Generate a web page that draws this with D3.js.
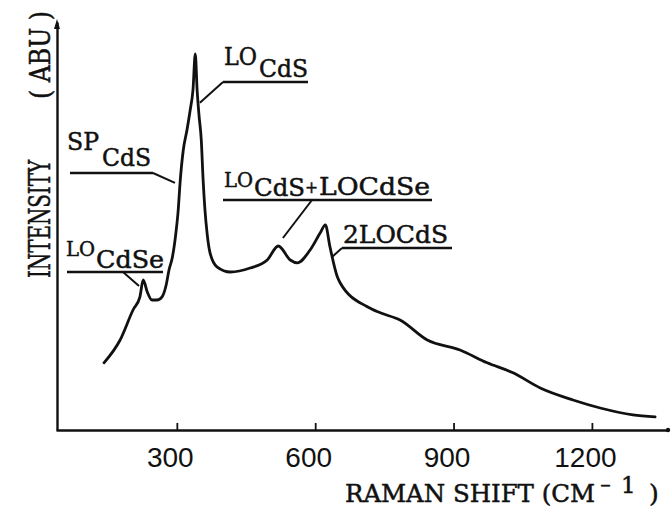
<!DOCTYPE html>
<html>
<head>
<meta charset="utf-8">
<script src="https://cdn.jsdelivr.net/npm/d3@7"></script>
<style>
  body { margin: 0; background: #fff; }
  svg { display: block; }
</style>
</head>
<body>
<div id="chart"></div>
<script>
// Raman spectrum (arbitrary intensity units)
const shift = [142, 177, 205, 220, 227, 236, 246, 257, 268, 277, 283, 290, 298, 303, 307, 314,
  322, 329, 335, 340, 344, 348, 353, 357, 361, 366, 372, 387, 416, 459, 496, 520, 546, 561,
  589, 611, 622, 632, 648, 654, 713, 741, 784, 843, 914, 973, 1029, 1088, 1159, 1218, 1289, 1337];
const intensity = [16.8, 22.5, 30, 33.3, 37.5, 34.5, 32.5, 32.5, 33.3, 36.3, 40, 43, 49.3, 55, 61.8, 70,
  75, 80, 85, 94, 85, 78.8, 72.5, 62.5, 55, 48.8, 44.3, 40.8, 39.5, 40.5, 42.5, 46, 42.5, 41.8,
  45, 49.3, 51.3, 45.8, 38.3, 36.8, 30.8, 29.3, 27.5, 22.5, 20, 16.8, 14.3, 10.5, 7.5, 5.5, 3.8, 3.3];
const tickValues = [300, 600, 900, 1200];

(function () {
  "use strict";

  const W = 671, H = 509;
  const typewriter = "'DejaVu Serif', 'Liberation Serif', serif";
  const ink = "#111";

  const svg = d3.select("#chart").append("svg")
    .attr("width", W).attr("height", H)
    .attr("viewBox", [0, 0, W, H]);

  const x = d3.scaleLinear().domain([38, 1365]).range([56, 668]);
  const y = d3.scaleLinear().domain([0, 102]).range([430, 22]);

  // --- Axes ---
  const xAxis = svg.append("g")
    .attr("transform", `translate(0,${y(0)})`)
    .call(d3.axisBottom(x)
      .tickValues(tickValues)
      .tickFormat(d3.format("d"))
      .tickSize(-7).tickSizeOuter(0).tickPadding(17));
  xAxis.select(".domain").attr("stroke", ink).attr("stroke-width", 2.6);
  xAxis.selectAll(".tick line").attr("stroke", ink).attr("stroke-width", 1.8);
  xAxis.selectAll(".tick text")
    .attr("fill", ink)
    .attr("dx", -7)
    .style("font-family", "'Liberation Sans', Arial, sans-serif")
    .style("font-size", "28px");

  const yAxis = svg.append("g")
    .attr("transform", `translate(${x.range()[0] + 1},0)`)
    .call(d3.axisLeft(y).tickValues([]).tickSizeOuter(0));
  yAxis.select(".domain").attr("stroke", ink).attr("stroke-width", 2.4);

  // arrow head on the intensity axis, small dot at the end of the shift axis
  const yTop = y.range()[1];
  svg.append("path")
    .attr("d", `M${x.range()[0] + 1},${yTop - 3} l-3,10 l6,0 z`)
    .attr("fill", ink);
  svg.append("circle")
    .attr("cx", x.range()[1]).attr("cy", y(0))
    .attr("r", 2.2).attr("fill", ink);

  // --- Spectrum ---
  const line = d3.line()
    .x((d, i) => x(shift[i]))
    .y((d, i) => y(intensity[i]))
    .curve(d3.curveMonotoneX);

  svg.append("path")
    .datum(shift)
    .attr("d", line)
    .attr("fill", "none")
    .attr("stroke", ink)
    .attr("stroke-width", 2.8)
    .attr("stroke-linejoin", "round")
    .attr("stroke-linecap", "round");

  // --- Peak labels ---
  // parts: [text, x, baseline, width, size]; rule: [x1, x2, y]; lead: start point, at: data point on curve
  const labels = [
    { parts: [["LO", 224, 65, 33, 24], ["CdS", 259, 77, 49, 24]], rule: [223, 308, 82],
      lead: [223, 82], at: [350, 81.8] },
    { parts: [["SP", 67, 150, 32, 24], ["CdS", 102, 166, 49, 24]], rule: [70, 153, 173],
      lead: [153, 173], at: [296, 61.8] },
    { parts: [["LO", 66, 256, 29, 21], ["CdSe", 96, 268, 68, 24]], rule: [67, 163, 272],
      lead: [123, 272], at: [218, 36] },
    { parts: [["LO", 224, 187, 29, 21], ["CdS", 254, 196, 51, 24], ["+", 305, 193, 13, 16],
      ["LOCdSe", 319, 195, 111, 24]],
      rule: [223, 432, 200], lead: [312, 200], at: [530, 48] },
    { parts: [["2LOCdS", 343, 243, 105, 24]], rule: [342, 452, 248],
      lead: [342, 248], at: [637, 43.3] },
  ];

  const lab = svg.append("g").attr("class", "labels");
  labels.forEach((l) => {
    const txt = lab.append("text")
      .attr("fill", ink)
      .attr("stroke", ink)
      .attr("stroke-width", 0.5)
      .style("font-family", typewriter);
    l.parts.forEach(([t, px, py, w, fs]) => {
      txt.append("tspan")
        .attr("x", px).attr("y", py)
        .attr("textLength", w)
        .attr("lengthAdjust", "spacingAndGlyphs")
        .style("font-size", fs + "px")
        .text(t);
    });
    lab.append("line")
      .attr("x1", l.rule[0]).attr("x2", l.rule[1])
      .attr("y1", l.rule[2]).attr("y2", l.rule[2])
      .attr("stroke", ink).attr("stroke-width", 2.6);
    lab.append("line")
      .attr("x1", l.lead[0]).attr("y1", l.lead[1])
      .attr("x2", x(l.at[0])).attr("y2", y(l.at[1]))
      .attr("stroke", ink).attr("stroke-width", 2);
  });

  // --- Axis titles ---
  const title = svg.append("g")
    .style("font-family", typewriter)
    .attr("fill", ink).attr("stroke", ink).attr("stroke-width", 0.5);
  const xTitle = title.append("text");
  xTitle.append("tspan")
    .attr("x", 345).attr("y", 502)
    .attr("textLength", 250).attr("lengthAdjust", "spacingAndGlyphs")
    .style("font-size", "24px")
    .text("RAMAN SHIFT (CM");
  xTitle.append("tspan")
    .attr("x", 600).attr("y", 490)
    .attr("textLength", 11).attr("lengthAdjust", "spacingAndGlyphs")
    .style("font-size", "16px")
    .text("-");
  xTitle.append("tspan")
    .attr("x", 621).attr("y", 493)
    .style("font-size", "23px")
    .text("1");
  xTitle.append("tspan")
    .attr("x", 649).attr("y", 502)
    .style("font-size", "25px")
    .text(")");

  title.append("text")
    .attr("transform", "translate(50,278) rotate(-90)")
    .attr("textLength", 118).attr("lengthAdjust", "spacingAndGlyphs")
    .style("font-size", "29px")
    .text("INTENSITY");
  title.append("text")
    .attr("transform", "translate(50,99) rotate(-90)")
    .attr("textLength", 88).attr("lengthAdjust", "spacingAndGlyphs")
    .style("font-size", "27px")
    .text("( ABU )");
})();
</script>
</body>
</html>
